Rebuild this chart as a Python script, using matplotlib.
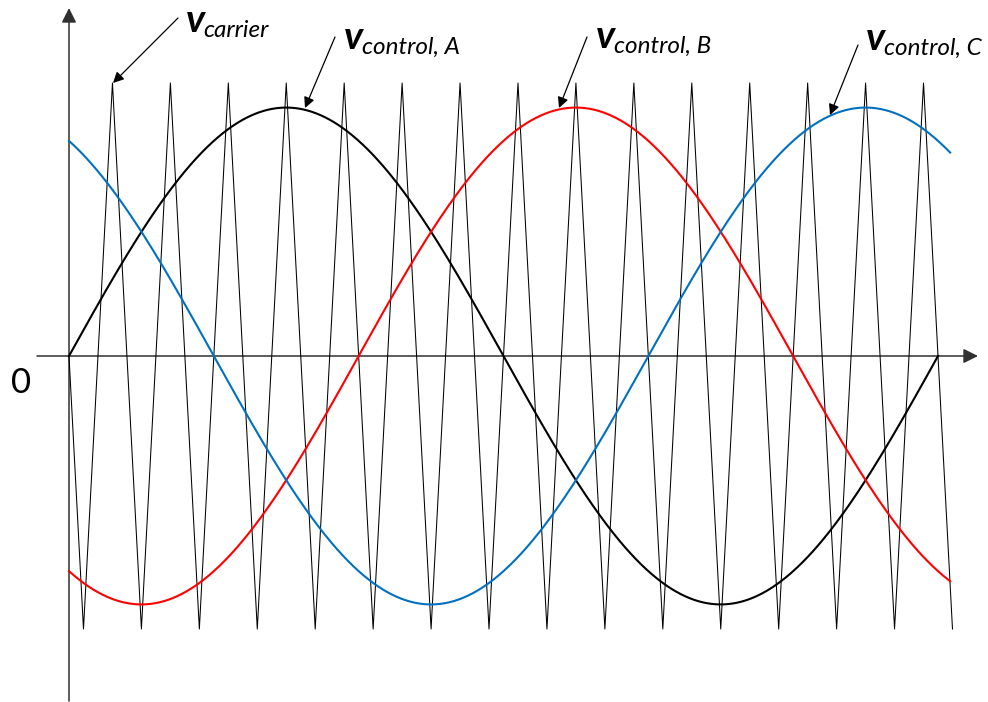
import numpy as np
import matplotlib
matplotlib.use("Agg")
import matplotlib.pyplot as plt

# ---- data (normalised: carrier amplitude = 1, one control period = 1) ----
carrier_periods = 15          # carrier periods per control period
carrier_end = 15.25 / 15      # carrier drawn until this time
mod_index = 0.91              # control amplitude / carrier amplitude
phase_labels = ["A", "B", "C"]
phase_shifts_deg = [0, -120, 120]
phase_colors = ["black", "#FF0000", "#0070C0"]
phase_ends = [1.0, 1.014, 1.014]

# pixel layout helpers (figure 988x702 px, axes fill the figure)
W, H = 988, 702
X0, XSCALE = 69, 869          # t=0 at px 69, t=1 at px 938
Y0, YSCALE = 356, 273         # v=0 at px 356, v=1 at px 83


def tx(px):
    return (px - X0) / XSCALE


def vy(py):
    return (Y0 - py) / YSCALE


fig = plt.figure(figsize=(W / 100, H / 100), dpi=100)
ax = fig.add_axes([0, 0, 1, 1])
ax.set_xlim(tx(0), tx(W))
ax.set_ylim(vy(H), vy(0))
ax.axis("off")

# carrier triangle wave: starts at 0 going down
tv = [0.0]
vv = [0.0]
t_now = 0.25 / carrier_periods
sign = -1
while t_now <= carrier_end + 1e-9:
    tv.append(t_now)
    vv.append(sign)
    sign = -sign
    t_now += 0.5 / carrier_periods
ax.plot(tv, vv, color="black", lw=0.75, zorder=2)

# control signals
for lab, sh, col, te in zip(phase_labels, phase_shifts_deg, phase_colors, phase_ends):
    t = np.linspace(0, te, 800)
    ax.plot(t, mod_index * np.sin(2 * np.pi * t + np.deg2rad(sh)), color=col, lw=1.5, zorder=3)

# axes with arrows
axis_col = "#303030"
ax.annotate("", xy=(tx(978), 0), xytext=(tx(37), 0),
            arrowprops=dict(arrowstyle="-|>", color=axis_col, lw=1.1, mutation_scale=22,
                            shrinkA=0, shrinkB=0), zorder=1)
ax.annotate("", xy=(0, vy(8)), xytext=(0, vy(701)),
            arrowprops=dict(arrowstyle="-|>", color=axis_col, lw=1.1, mutation_scale=22,
                            shrinkA=0, shrinkB=0), zorder=1)

ax.text(tx(11), vy(393), "0", fontsize=25, family="Lato", ha="left", va="baseline")

# labels with arrows
main_font = dict(family="Lato", fontsize=28, style="italic", weight="bold")
sub_font = dict(family="Lato", fontsize=17.5, style="italic")

labels = [
    ("carrier", 186, 203, 32, (178, 18), (113, 83)),
    ("control, A", 344, 362, 49, (335, 37), (305, 108)),
    ("control, B", 596, 614, 48, (587, 37), (559, 108)),
    ("control, C", 866, 884, 50, (858, 45), (830, 115)),
]
for sub, vx, sx, base, p_from, p_to in labels:
    ax.text(tx(vx), vy(base), "v", ha="left", va="baseline", **main_font)
    ax.text(tx(sx), vy(base + 5), sub, ha="left", va="baseline", **sub_font)
    ax.annotate("", xy=(tx(p_to[0]), vy(p_to[1])), xytext=(tx(p_from[0]), vy(p_from[1])),
                arrowprops=dict(arrowstyle="-|>", color="black", lw=0.9, mutation_scale=16,
                                shrinkA=0, shrinkB=0), zorder=5)

fig.savefig("out.png", dpi=100, facecolor="white")
